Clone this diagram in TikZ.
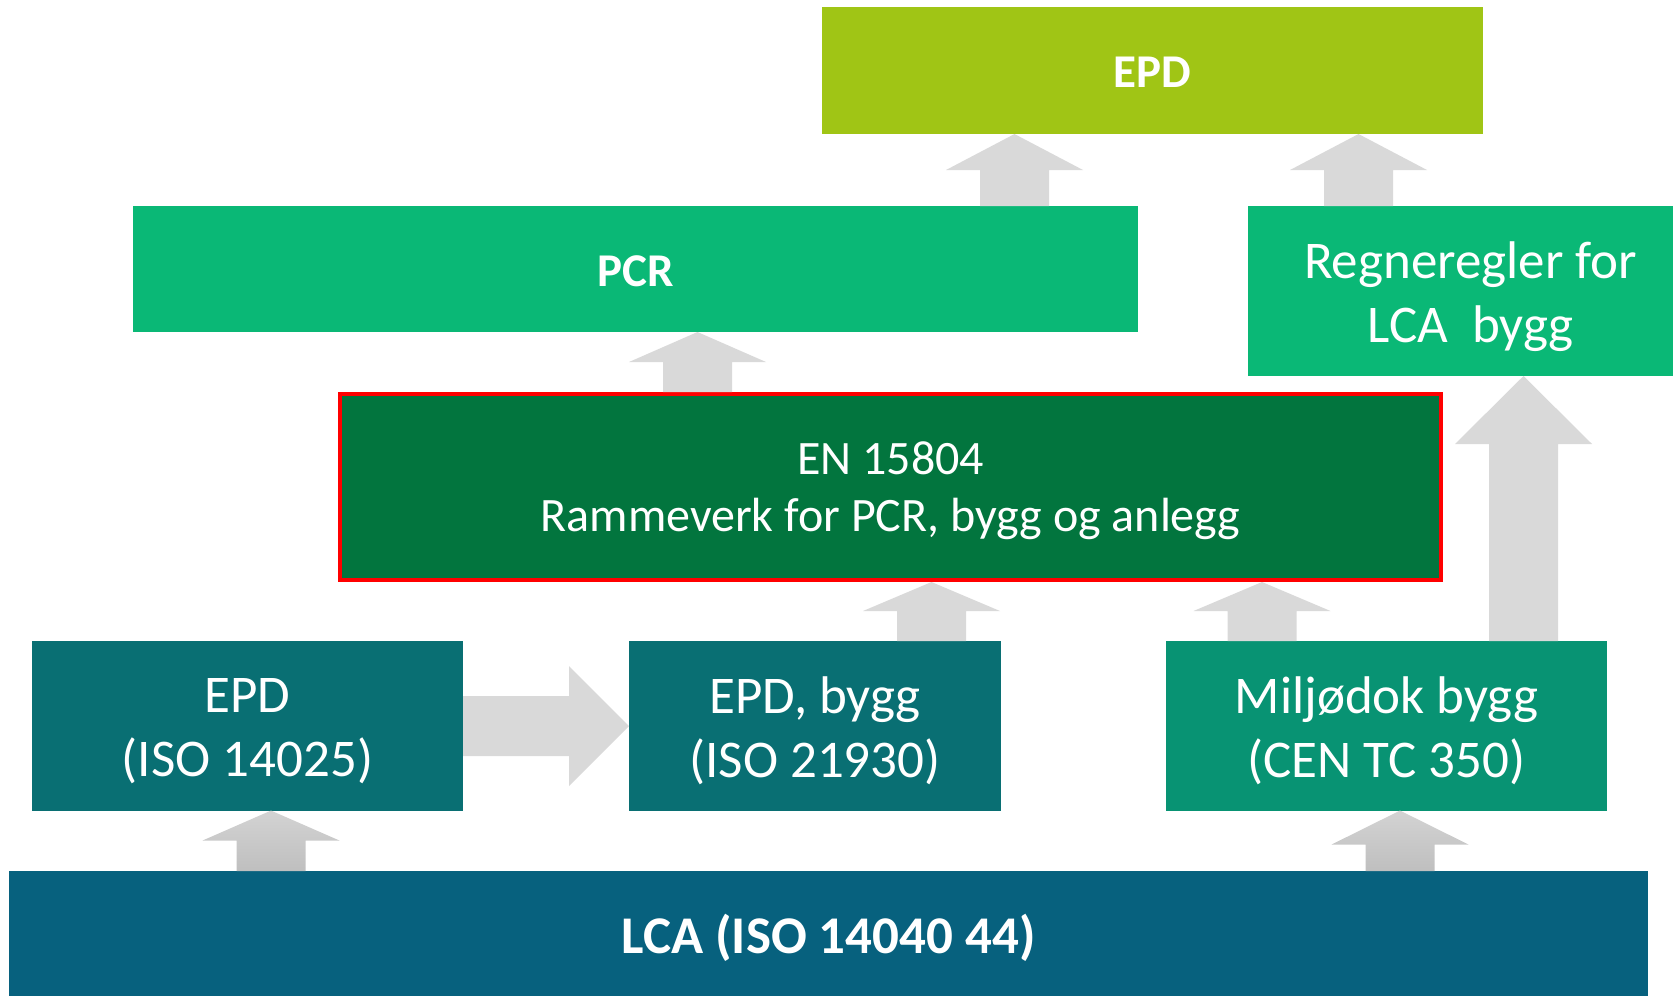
\documentclass[tikz,border=0pt]{standalone}
\usepackage{fontspec}
\setmainfont{Carlito}
\usetikzlibrary{calc}
\definecolor{cLime}{HTML}{A0C515}
\definecolor{cGreen}{HTML}{0AB876}
\definecolor{cDark}{HTML}{02753E}
\definecolor{cTeal}{HTML}{096F73}
\definecolor{cMid}{HTML}{089373}
\definecolor{cBlue}{HTML}{07617E}
\definecolor{cGray}{HTML}{D9D9D9}
\definecolor{cGrayT}{HTML}{D3D3D3}
\definecolor{cGrayB}{HTML}{BFBFBF}
% lower the text of a centred node by #1 (adds 2*#1 of height to the first line)
\newcommand\dnshift[2]{\setbox0\hbox{#2}\rule{0pt}{\dimexpr\ht0+2\dimexpr#1\relax\relax}#2}
\newcommand\varrowblk[5]{% #1 lower node, #2 upper node, #3 centre x, #4 head length, #5 style
  \path[#5] let \p1=(#1.north), \p2=(#2.south) in
    ({(#3-34.5)*1pt},\y1) -- ({(#3-34.5)*1pt},{\y2-#4pt}) -- ({(#3-68.5)*1pt},{\y2-#4pt})
    -- ({#3*1pt},\y2) -- ({(#3+68.5)*1pt},{\y2-#4pt}) -- ({(#3+34.5)*1pt},{\y2-#4pt})
    -- ({(#3+34.5)*1pt},\y1) -- cycle;}
\begin{document}
\begin{tikzpicture}[x=1pt,y=-1pt,
  box/.style={inner sep=0pt,outer sep=0pt,text=white,align=center,font=\fontsize{53}{64}\selectfont},
  blk/.style={fill=cGray},
  blkg/.style={top color=cGrayT,bottom color=cGrayB}]
\useasboundingbox (0,0) rectangle (1673,996);
% boxes
\node[box,fill=cLime,minimum width=661pt,minimum height=127pt,font=\fontsize{47}{57}\selectfont\bfseries] (epdtop) at (1152.5,70.5) {\dnshift{2pt}{EPD}};
\node[box,fill=cGreen,minimum width=1005pt,minimum height=126pt,font=\fontsize{47}{57}\selectfont\bfseries] (pcr) at (635.5,269) {\dnshift{2pt}{PCR}};
\node[box,fill=cGreen,minimum width=425pt,minimum height=170pt] (regn) at (1460.5,291) {\hspace*{20pt}\dnshift{6pt}{Regneregler for}\\\hspace*{20pt}LCA\ \ bygg};
\node[box,fill=cDark,draw=red,line width=4pt,outer sep=2pt,minimum width=1101pt,minimum height=186pt,font=\fontsize{48}{57}\selectfont] (en) at (890.5,487) {\dnshift{4pt}{EN 15804}\\Rammeverk for PCR, bygg og anlegg};
\node[box,fill=cTeal,minimum width=431pt,minimum height=169.5pt] (epd1) at (247.5,725.8) {\dnshift{5pt}{EPD}\\(ISO 14025)};
\node[box,fill=cTeal,minimum width=372pt,minimum height=169.5pt] (epdb) at (815,725.8) {\dnshift{5pt}{EPD, bygg}\\(ISO 21930)};
\node[box,fill=cMid,minimum width=441pt,minimum height=169.5pt] (milj) at (1386.5,725.8) {\dnshift{4.5pt}{Miljødok bygg}\\(CEN TC 350)};
\node[box,fill=cBlue,minimum width=1639pt,minimum height=125pt,font=\fontsize{53}{64}\selectfont\bfseries] (lca) at (828.5,933.5) {\dnshift{4pt}{LCA (ISO 14040 44)}};
% block arrows
\varrowblk{pcr}{epdtop}{1014.5}{36}{blk}
\varrowblk{regn}{epdtop}{1358.5}{36}{blk}
\varrowblk{en}{pcr}{697.5}{30}{blk}
\varrowblk{epdb}{en}{931.5}{29}{blk}
\varrowblk{milj}{en}{1262}{29}{blk}
\varrowblk{milj}{regn}{1523.5}{68}{blk}
\varrowblk{lca}{epd1}{271}{30}{blkg}
\varrowblk{lca}{milj}{1400}{34}{blkg}
\path[blk] let \p1=(epd1.east), \p2=(epdb.west) in
  (\x1,-696pt) -- ({\x2-60pt},-696pt) -- ({\x2-60pt},-666pt) -- (\x2,-726pt)
  -- ({\x2-60pt},-786pt) -- ({\x2-60pt},-756pt) -- (\x1,-756pt) -- cycle;
\end{tikzpicture}
\end{document}
